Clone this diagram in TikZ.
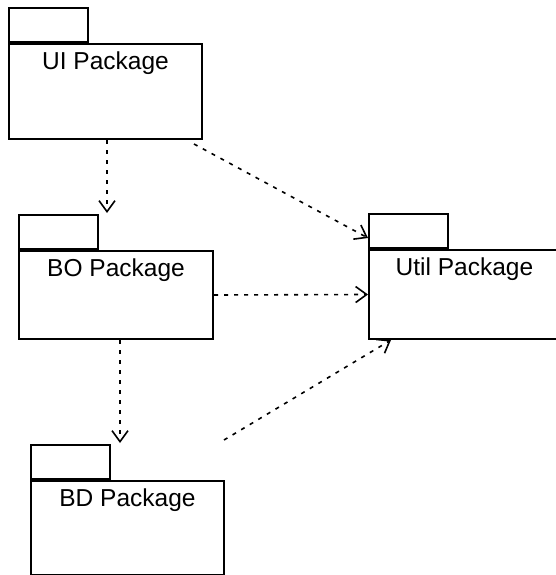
\documentclass[tikz,border=0pt]{standalone}
\usepackage{fontspec}
\setmainfont{Liberation Sans}
\usetikzlibrary{arrows.meta}

\begin{document}
\begin{tikzpicture}[x=1pt,y=-1pt,
	pkg_body/.style={draw,line width=2pt,anchor=north west,inner sep=0pt,minimum width=#1},
	pkg_tab/.style={draw,line width=2pt,anchor=south west,inner sep=0pt,minimum width=79pt,minimum height=34pt},
	pkg_name/.style={anchor=north,yshift=-5pt,font=\fontsize{24.5}{29}\selectfont},
	dep/.style={line width=1.6pt,dash pattern=on 4pt off 6pt,-{Straight Barb[length=11pt,width=16pt,line width=1.6pt]}}]
	\useasboundingbox[fill=white] (0,0) rectangle (555,575);

	\node[pkg_body=193pt,minimum height=95pt,label={[pkg_name]north:UI Package}] (ui) at (8,43) {};
	\node[pkg_tab] (ui_tab) at (ui.north west) {};
	\node[pkg_body=194pt,minimum height=88pt,label={[pkg_name]north:BO Package}] (bo) at (18,250) {};
	\node[pkg_tab] (bo_tab) at (bo.north west) {};
	\node[pkg_body=193pt,minimum height=94pt,label={[pkg_name]north:BD Package}] (bd) at (30,480) {};
	\node[pkg_tab] (bd_tab) at (bd.north west) {};
	\node[pkg_body=191pt,minimum height=89pt,label={[pkg_name]north:Util Package}] (util) at (368,249) {};
	\node[pkg_tab] (util_tab) at (util.north west) {};

	\coordinate (bo_in) at (107,213);
	\coordinate (bd_in) at (120,443);
	\coordinate (bd_out) at (224,440);

	\draw[dep] (ui.south -| bo_in) -- (bo_in);
	\draw[dep] ([xshift=-9pt,yshift=-4pt]ui.south east) -- ([yshift=-7pt]util_tab.west);
	\draw[dep] (bo.east) -- (util.west);
	\draw[dep] (bo.south -| bd_in) -- (bd_in);
	\draw[dep] (bd_out) -- ([xshift=23pt]util.south west);
\end{tikzpicture}
\end{document}
